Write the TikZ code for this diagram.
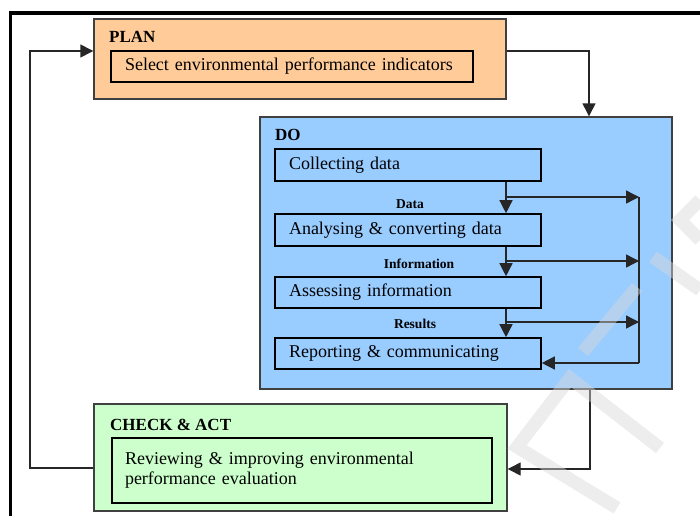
\documentclass[tikz,border=0pt]{standalone}
\usepackage{fontspec}
\setmainfont{Liberation Serif}
\usetikzlibrary{arrows.meta}

\definecolor{planfill}{HTML}{FFCC99}
\definecolor{dofill}{HTML}{99CCFF}
\definecolor{checkfill}{HTML}{CCFFCC}
\definecolor{edgegray}{HTML}{404040}
\definecolor{linkgray}{HTML}{262626}

\tikzset{
  stage/.style={draw=edgegray, line width=1.4pt, rectangle, inner sep=0pt},
  taskbox/.style={draw=black, line width=1.6pt, rectangle, inner xsep=14pt,
    inner ysep=0pt, align=left, font=\fontsize{18}{20}\selectfont},
  heading/.style={anchor=west, inner sep=0pt, font=\fontsize{17}{20}\selectfont\bfseries},
  flowlabel/.style={inner sep=0pt, font=\fontsize{13.5}{15}\selectfont\bfseries},
  link/.style={draw=linkgray, line width=1.4pt},
  arr/.style={link, -{Triangle[length=13pt,width=13pt]}},
  wmark/.style={line width=13pt, draw=gray!30, opacity=0.45, line cap=butt}
}

\begin{document}
\begin{tikzpicture}[x=1pt, y=-1pt]
\useasboundingbox[fill=white] (0,0) rectangle (700,516);

% page frame
\draw[line width=3.6pt, black] (700,13) -- (10.5,13) -- (10.5,516);

% PLAN stage
\node[stage, fill=planfill, minimum width=412pt, minimum height=80pt] (plan) at (300,59) {};
\node[heading] (planlbl) at (109,37) {PLAN};
\node[taskbox, text width=334pt, minimum width=362pt, minimum height=31pt] (planin) at (292,66.5)
  {Select environmental performance indicators};

% DO stage
\node[stage, fill=dofill, minimum width=412pt, minimum height=272pt] (do) at (466,253) {};
\node[heading] (dolbl) at (275,135) {DO};
\node[taskbox, text width=238pt, minimum width=266pt, minimum height=32pt] (collect) at (408,165) {Collecting data};
\node[taskbox, text width=238pt, minimum width=266pt, minimum height=32pt] (analyse) at (408,230) {Analysing \& converting data};
\node[taskbox, text width=238pt, minimum width=266pt, minimum height=31pt] (assess) at (408,292.5) {Assessing information};
\node[taskbox, text width=238pt, minimum width=266pt, minimum height=31pt] (report) at (408,353.5) {Reporting \& communicating};

\node[flowlabel] (ldata) at (410,204) {Data};
\node[flowlabel] (linfo) at (419,264) {Information};
\node[flowlabel] (lres) at (415,324) {Results};

% CHECK & ACT stage
\node[stage, fill=checkfill, minimum width=413pt, minimum height=107pt] (check) at (300.5,457.5) {};
\node[heading] (checklbl) at (110,425) {CHECK \& ACT};
\node[taskbox, inner xsep=13pt, text width=354pt, minimum width=380pt, minimum height=65pt] (checkin) at (302,470.5)
  {Reviewing \& improving environmental\\performance evaluation};

% routing points
\coordinate (trunk) at (506,0);
\coordinate (bus) at (639,0);
\coordinate (t1) at (506,197);
\coordinate (t2) at (506,261);
\coordinate (t3) at (506,322);
\coordinate (fb) at (639,363);
\coordinate (planout) at (589,51);
\coordinate (doout) at (590,469);
\coordinate (loop) at (30,468);
\coordinate (loopin) at (30,51);

% flow inside DO
\draw[arr] (collect.south -| trunk) -- (analyse.north -| trunk);
\draw[arr] (analyse.south -| trunk) -- (assess.north -| trunk);
\draw[arr] (assess.south -| trunk) -- (report.north -| trunk);
\draw[arr] (t1) -- (t1 -| bus);
\draw[arr] (t2) -- (t2 -| bus);
\draw[arr] (t3) -- (t3 -| bus);
\draw[link] (t1 -| bus) -- (fb);
\draw[arr] (fb) -- (report.east |- fb);

% cycle between stages
\draw[arr] (plan.east |- planout) -- (planout) -- (planout |- do.north);
\draw[arr] (doout |- do.south) -- (doout) -- (check.east |- doout);
\draw[arr] (check.west |- loop) -- (loop) -- (loopin) -- (plan.west |- loopin);

% faint background watermark strokes
\draw[wmark] (617,508) -- (517,447) -- (570,378) -- (660,448);
\draw[wmark] (583,352) -- (637,287);
\draw[wmark] (653,257) -- (700,290);
\draw[wmark] (700,200) -- (680,220) -- (700,240);
\end{tikzpicture}
\end{document}
